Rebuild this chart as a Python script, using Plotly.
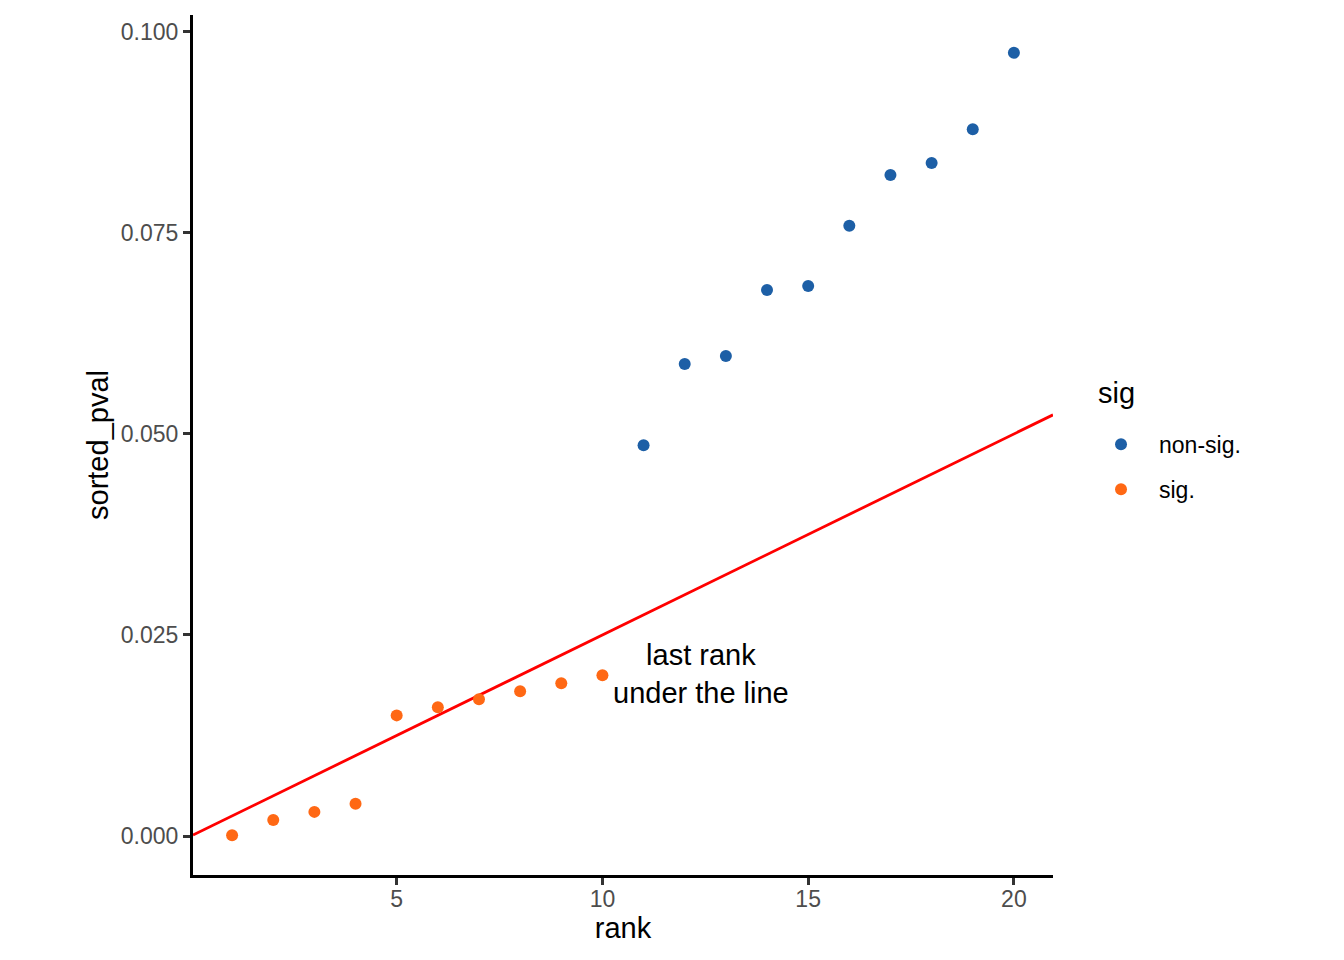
import plotly.graph_objects as go

# sorted p-values against their rank, BH threshold line
rank = list(range(1, 21))
sorted_pval = [0.0001, 0.002, 0.003, 0.004, 0.015, 0.016, 0.017, 0.018, 0.019, 0.020,
               0.0486, 0.0587, 0.0597, 0.0679, 0.0684, 0.0759, 0.0822, 0.0837, 0.0879, 0.0974]
sig = ["sig."] * 10 + ["non-sig."] * 10
alpha = 0.05

colors = {"non-sig.": "#1D5FA6", "sig.": "#FF6814"}

m = len(rank)
xrange_ = [0.05, 20.95]
yrange_ = [-0.00485, 0.1021]

fig = go.Figure()

# threshold line alpha * rank / m across the whole panel
fig.add_trace(go.Scatter(x=xrange_, y=[alpha * x / m for x in xrange_], mode="lines",
                         line=dict(color="red", width=2.8), showlegend=False, hoverinfo="skip"))

for grp in ["non-sig.", "sig."]:
    xs = [r for r, s in zip(rank, sig) if s == grp]
    ys = [p for p, s in zip(sorted_pval, sig) if s == grp]
    fig.add_trace(go.Scatter(x=xs, y=ys, mode="markers", name=grp, legendgroup=grp,
                             marker=dict(color=colors[grp], size=12)))

fig.add_annotation(x=12.4, y=0.0201, text="last rank<br>under the line", showarrow=False,
                   font=dict(size=29, color="black"), xanchor="center", yanchor="middle")

# legend title drawn separately so the gap to the keys matches
fig.add_annotation(xref="paper", yref="paper", x=1.050, y=0.5606, text="sig", showarrow=False,
                   xanchor="left", yanchor="middle", font=dict(size=29, color="black"))

axis_common = dict(showline=True, linecolor="black", linewidth=3, ticks="outside",
                   ticklen=7, tickwidth=2.5, tickcolor="#333333", showgrid=False, zeroline=False,
                   tickfont=dict(size=23, color="#4D4D4D"), title_font=dict(size=29, color="black"))

fig.update_xaxes(range=xrange_, tickvals=[5, 10, 15, 20], title_text="rank",
                 title_standoff=8, ticklabelstandoff=-6, **axis_common)
fig.update_yaxes(range=yrange_, tickvals=[0, 0.025, 0.05, 0.075, 0.1], tickformat=".3f",
                 title_text="sorted_pval", title_standoff=4, ticklabelstandoff=0, **axis_common)

fig.update_layout(
    width=1336, height=952,
    margin=dict(l=185, r=291, t=7, b=85),
    plot_bgcolor="white", paper_bgcolor="white",
    font=dict(family="Liberation Sans, Arial, sans-serif"),
    legend=dict(x=1.0349, y=0.5257, xanchor="left", yanchor="top",
                font=dict(size=23, color="black"), tracegroupgap=12, itemwidth=66),
)

fig.write_html("out.html")
